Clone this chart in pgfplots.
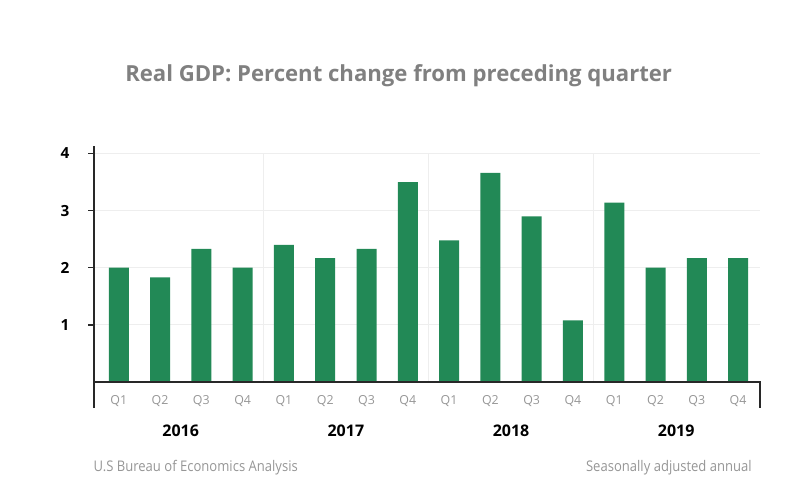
\documentclass[border=0pt]{standalone}
\usepackage{fontspec}
\setmainfont{Open Sans}
\newfontfamily\condfont{Open Sans}[FakeStretch=0.89]
\usepackage{pgfplots}
\pgfplotsset{compat=1.18}
\definecolor{bargreen}{RGB}{34,137,86}
\definecolor{titlegray}{RGB}{128,128,128}
\definecolor{qgray}{RGB}{150,150,150}
\definecolor{gridgray}{RGB}{238,238,238}
\definecolor{axisdark}{RGB}{40,40,40}
\begin{document}
\begin{tikzpicture}
\path[use as bounding box] (0,0) rectangle (600pt,-375pt);
\node[text=titlegray, font=\bfseries\fontsize{16.6}{19}\selectfont] at (299pt,-56.5pt) {Real GDP: Percent change from preceding quarter};
\node[anchor=west, text=qgray, font=\condfont\fontsize{11}{12}\selectfont, inner sep=0pt] at (70pt,-351pt) {U.S Bureau of Economics Analysis};
\node[anchor=east, text=qgray, font=\condfont\fontsize{11}{12}\selectfont, inner sep=0pt] at (564pt,-351pt) {Seasonally adjusted annual};
\begin{axis}[
  at={(70.5pt,-306pt)}, anchor=south west,
  scale only axis, width=499.5pt, height=196.5pt,
  xmin=-0.6, xmax=15.53, ymin=-0.455, ymax=4.13,
  axis line style={draw=none},
  ybar, bar width=15pt,
  xtick={0,...,15},
  xticklabels={Q1,Q2,Q3,Q4,Q1,Q2,Q3,Q4,Q1,Q2,Q3,Q4,Q1,Q2,Q3,Q4},
  x tick label style={text=qgray, font=\fontsize{9.3}{10}\selectfont, yshift=17pt},
  xtick style={draw=none},
  ytick={1,2,3,4},
  yticklabel style={font=\bfseries\fontsize{11.5}{12}\selectfont, text=black, xshift=-15pt},
  ytick style={draw=none},
  /pgf/number format/assume math mode=true,
  clip=false,
]
% grid
\foreach \yy in {1,2,3,4} {
  \edef\tmp{\noexpand\draw[gridgray, line width=0.6pt] (axis cs:-0.6,\yy) -- (axis cs:15.53,\yy);}\tmp
}
\foreach \xx in {3.5,7.5,11.5} {
  \edef\tmp{\noexpand\draw[gridgray, line width=0.6pt] (axis cs:\xx,0) -- (axis cs:\xx,4);}\tmp
}
\addplot[fill=bargreen, draw=none] coordinates {
(0,2.0) (1,1.83) (2,2.33) (3,2.0)
(4,2.4) (5,2.17) (6,2.33) (7,3.5)
(8,2.48) (9,3.66) (10,2.9) (11,1.08)
(12,3.14) (13,2.0) (14,2.17) (15,2.17)};
% axis lines
\draw[axisdark, line width=0.9pt] (axis cs:-0.6,-0.455) -- (axis cs:-0.6,4.13);
\draw[axisdark, line width=0.9pt] (axis cs:-0.6,0) -- (axis cs:15.53,0) -- (axis cs:15.53,-0.455);
\foreach \yy in {1,2,3,4} {
  \edef\tmp{\noexpand\draw[axisdark, line width=1pt] (axis cs:-0.6,\yy) -- ([xshift=-4.5pt]axis cs:-0.6,\yy);}\tmp
}
% year labels
\node[font=\bfseries\fontsize{12}{13}\selectfont] at (axis cs:1.5,-0.86) {2016};
\node[font=\bfseries\fontsize{12}{13}\selectfont] at (axis cs:5.5,-0.86) {2017};
\node[font=\bfseries\fontsize{12}{13}\selectfont] at (axis cs:9.5,-0.86) {2018};
\node[font=\bfseries\fontsize{12}{13}\selectfont] at (axis cs:13.5,-0.86) {2019};
\end{axis}
\end{tikzpicture}
\end{document}
